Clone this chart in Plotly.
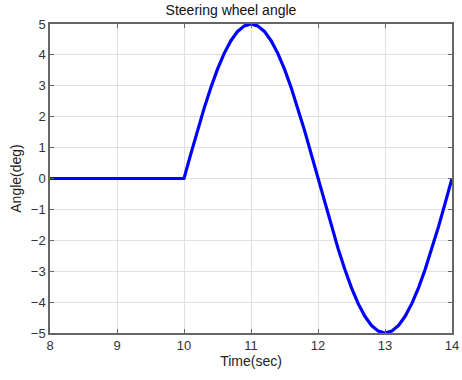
import plotly.graph_objects as go

time_flat = [8.0, 10.0]
angle_flat = [0.0, 0.0]
time_sine = [10.0, 10.1, 10.2, 10.3, 10.4, 10.5, 10.6, 10.7, 10.8, 10.9, 11.0,
             11.1, 11.2, 11.3, 11.4, 11.5, 11.6, 11.7, 11.8, 11.9, 12.0,
             12.1, 12.2, 12.3, 12.4, 12.5, 12.6, 12.7, 12.8, 12.9, 13.0,
             13.1, 13.2, 13.3, 13.4, 13.5, 13.6, 13.7, 13.8, 13.9, 14.0]
angle_sine = [0.0, 0.78, 1.55, 2.27, 2.94, 3.54, 4.05, 4.46, 4.76, 4.94, 5.0,
              4.94, 4.76, 4.46, 4.05, 3.54, 2.94, 2.27, 1.55, 0.78, 0.0,
              -0.78, -1.55, -2.27, -2.94, -3.54, -4.05, -4.46, -4.76, -4.94, -5.0,
              -4.94, -4.76, -4.46, -4.05, -3.54, -2.94, -2.27, -1.55, -0.78, 0.0]
x_ticks = [8, 9, 10, 11, 12, 13, 14]
y_ticks = [-5, -4, -3, -2, -1, 0, 1, 2, 3, 4, 5]

time = time_flat + time_sine[1:]
angle = angle_flat + angle_sine[1:]

fig = go.Figure()
fig.add_trace(go.Scatter(x=time, y=angle, mode="lines",
                         line=dict(color="#0000FF", width=3.2), showlegend=False))

axis_common = dict(showline=True, linecolor="#666666", linewidth=1.5, mirror="ticks",
                   ticks="inside", ticklen=4, tickcolor="#666666", automargin=False,
                   showgrid=True, gridcolor="#E0E0E0", gridwidth=1, zeroline=False,
                   tickfont=dict(size=13, color="#333333"))

fig.update_layout(
    width=462, height=380,
    margin=dict(l=50, r=10, t=24, b=47),
    paper_bgcolor="white", plot_bgcolor="white",
    font=dict(family="Liberation Sans, Arial, sans-serif", color="#222222"),
    title=dict(text="Steering wheel angle", x=0.5, xanchor="center",
               y=1 - 10 / 380, yanchor="middle", font=dict(size=14, color="#111111")),
    xaxis=dict(range=[8, 14], tickvals=x_ticks,
               title=dict(text="Time(sec)", font=dict(size=14, color="#222222"), standoff=4),
               **axis_common),
    yaxis=dict(range=[-5, 5], tickvals=y_ticks,
               title=dict(text="Angle(deg)", font=dict(size=14, color="#222222"), standoff=6),
               **axis_common),
)

fig.write_html("out.html")
